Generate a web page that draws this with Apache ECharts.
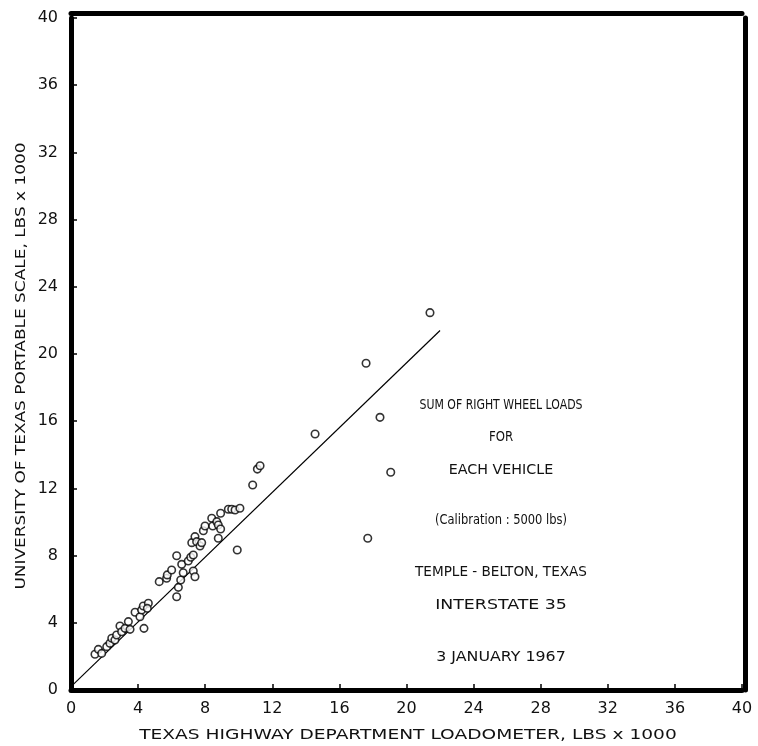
<!DOCTYPE html>
<html>
<head>
<meta charset="utf-8">
<script src="https://cdn.jsdelivr.net/npm/echarts@6/dist/echarts.min.js"></script>
<style>
  html, body { margin: 0; padding: 0; background: #fff; }
  #chart { width: 758px; height: 746px; }
</style>
</head>
<body>
<div id="chart"></div>
<script>
// Loadometer reading (x) vs portable scale reading (y), thousands of lbs
const loadometer = [
  1.43, 1.63, 1.83, 2.13, 2.32, 2.43, 2.62, 2.72, 2.92, 3.02,
  3.22, 3.42, 3.52, 3.82, 4.11, 4.21, 4.31, 4.61, 4.55, 4.35,
  5.26, 5.70, 5.74, 6.00, 6.30, 6.40, 6.54, 6.69, 6.60, 6.30,
  6.99, 7.14, 7.29, 7.29, 7.39, 7.20, 7.39, 7.49, 7.69, 7.79,
  7.89, 7.99, 8.39, 8.45, 8.69, 8.78, 8.92, 8.92, 8.78, 9.38,
  9.58, 9.78, 10.07, 9.91, 10.83, 11.11, 11.27, 14.55, 17.59, 18.42,
  19.06, 17.69, 21.40
];
const portableScale = [
  2.13, 2.42, 2.18, 2.58, 2.78, 3.08, 2.98, 3.27, 3.81, 3.47,
  3.67, 4.07, 3.61, 4.63, 4.36, 4.76, 5.00, 5.16, 4.86, 3.67,
  6.45, 6.65, 6.85, 7.14, 5.55, 6.11, 6.55, 6.98, 7.48, 7.99,
  7.68, 7.90, 8.04, 7.08, 6.74, 8.77, 9.13, 8.83, 8.57, 8.77,
  9.48, 9.76, 10.22, 9.76, 10.02, 9.82, 10.52, 9.58, 9.03, 10.76,
  10.76, 10.71, 10.82, 8.33, 12.20, 13.15, 13.35, 15.24, 19.45, 16.23,
  12.96, 9.03, 22.46
];
// Fitted line end points
const fitX = [0, 22];
const fitY = [0.2, 21.4];

const xTitle = 'TEXAS HIGHWAY DEPARTMENT LOADOMETER, LBS x 1000';
const yTitle = 'UNIVERSITY OF TEXAS PORTABLE SCALE, LBS x 1000';
const noteLines = [
  'SUM OF RIGHT WHEEL LOADS',
  'FOR',
  'EACH VEHICLE',
  '(Calibration : 5000 lbs)',
  'TEMPLE - BELTON, TEXAS',
  'INTERSTATE 35',
  '3 JANUARY 1967'
];

const FONT = 'DejaVu Sans';
const points = loadometer.map((x, i) => [x, portableScale[i]]);
const fitLine = fitX.map((x, i) => [x, fitY[i]]);

// layout of the note block: vertical position and horizontal stretch per line
const noteY = [405, 437, 470, 520, 572, 605, 657];
const noteStretch = [0.78, 0.84, 1.02, 0.82, 0.97, 1.24, 1.13];

const frameAxis = {
  min: 0, max: 40, interval: 4,
  axisLabel: { show: false }, axisTick: { show: false }, splitLine: { show: false },
  axisLine: { show: true, onZero: false, lineStyle: { color: '#000', width: 5 } }
};

const chart = echarts.init(document.getElementById('chart'), null, { renderer: 'canvas' });

const graphics = noteLines.map((t, i) => ({
  type: 'text',
  x: 501, y: noteY[i],
  scaleX: noteStretch[i],
  style: {
    text: t, fontFamily: FONT, fontSize: 14, fill: '#111',
    textAlign: 'center', textVerticalAlign: 'middle'
  }
}));
// axis titles, drawn wide-spaced
graphics.push({
  type: 'text', x: 408, y: 735, scaleX: 1.33,
  style: { text: xTitle, fontFamily: FONT, fontSize: 14, fill: '#111',
    textAlign: 'center', textVerticalAlign: 'middle' }
});
graphics.push({
  type: 'text', x: 21, y: 366, rotation: Math.PI / 2, scaleX: 1.21,
  style: { text: yTitle, fontFamily: FONT, fontSize: 14, fill: '#111',
    textAlign: 'center', textVerticalAlign: 'middle' }
});

chart.setOption({
  animation: false,
  backgroundColor: '#fff',
  grid: { left: 71, right: 16, top: 18, bottom: 56 },
  xAxis: [
    {
      type: 'value', min: 0, max: 40, interval: 4, position: 'bottom',
      axisLine: { show: true, onZero: false, lineStyle: { color: '#000', width: 5 } },
      axisTick: { show: true, inside: true, length: 6, lineStyle: { color: '#000', width: 1.5 } },
      axisLabel: { fontFamily: FONT, fontSize: 16, color: '#111', margin: 11 },
      splitLine: { show: false }
    },
    Object.assign({ type: 'value', position: 'top', offset: 4.5 }, frameAxis)
  ],
  yAxis: [
    {
      type: 'value', min: 0, max: 40, interval: 4, position: 'left',
      axisLine: { show: true, onZero: false, lineStyle: { color: '#000', width: 5 } },
      axisTick: { show: true, inside: true, length: 6, lineStyle: { color: '#000', width: 1.5 } },
      axisLabel: { fontFamily: FONT, fontSize: 16, color: '#111', margin: 13 },
      splitLine: { show: false }
    },
    Object.assign({ type: 'value', position: 'right', offset: 3.5 }, frameAxis)
  ],
  series: [
    {
      type: 'line',
      data: fitLine,
      showSymbol: false,
      symbol: 'none',
      lineStyle: { color: '#000', width: 1.2 },
      z: 2
    },
    {
      type: 'scatter',
      data: points,
      symbol: 'circle',
      symbolSize: 7.5,
      itemStyle: { color: '#fff', borderColor: '#000', borderWidth: 1.6 },
      z: 3
    }
  ],
  graphic: graphics
});
</script>
</body>
</html>
